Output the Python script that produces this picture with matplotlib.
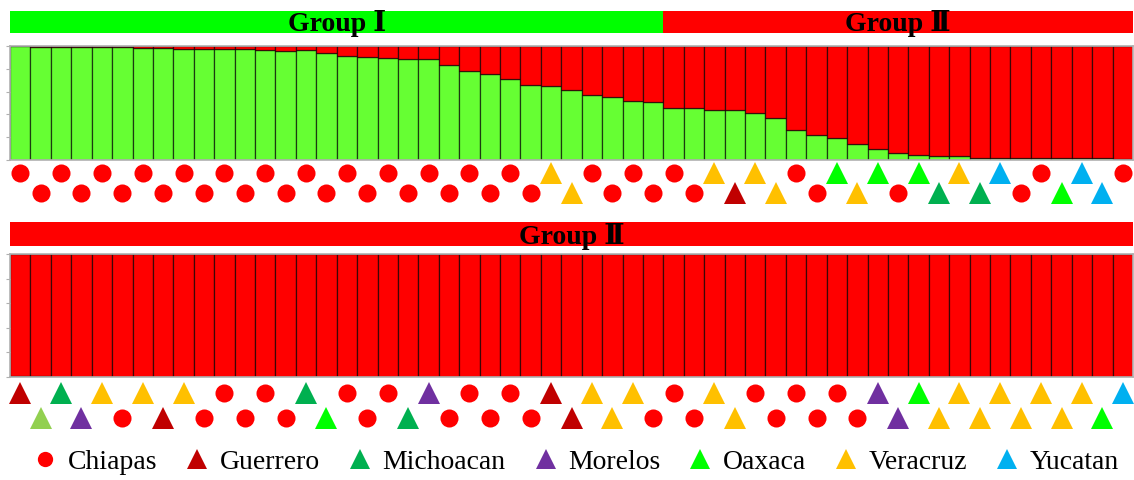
import numpy as np
import matplotlib
matplotlib.use("Agg")
import matplotlib.pyplot as plt
from matplotlib.lines import Line2D

plt.rcParams['font.family'] = ['Liberation Serif', 'DejaVu Serif']

# membership to the green cluster, one value per individual
green_top = [1.0, 0.994, 0.994, 0.994, 0.988, 0.988, 0.985, 0.985, 0.976, 0.976,
             0.97, 0.97, 0.965, 0.96, 0.962, 0.935, 0.91, 0.905, 0.894, 0.882,
             0.882, 0.832, 0.779, 0.753, 0.712, 0.659, 0.653, 0.618, 0.568, 0.556,
             0.515, 0.506, 0.459, 0.453, 0.441, 0.435, 0.412, 0.371, 0.259, 0.218,
             0.194, 0.141, 0.1, 0.062, 0.047, 0.038, 0.032, 0.021, 0.021, 0.015,
             0.015, 0.015, 0.015, 0.015, 0.012]
green_bottom = [0.008, 0.008, 0.004, 0.004, 0.004, 0.004, 0.004, 0.004, 0.004, 0.004,
                0.004, 0.004] + [0.0] * 43

# state of origin of each individual
states_top = ['C'] * 26 + ['V', 'V', 'C', 'C', 'C', 'C', 'C', 'C', 'V', 'G', 'V', 'V',
                           'C', 'C', 'O', 'V', 'O', 'C', 'O', 'M', 'V', 'M', 'Y', 'C',
                           'C', 'O', 'Y', 'Y', 'C']
states_bottom = ['G', 'L', 'M', 'Mo', 'V', 'C', 'V', 'G', 'V', 'C', 'C', 'C', 'C', 'C',
                 'M', 'O', 'C', 'C', 'C', 'M', 'Mo', 'C', 'C', 'C', 'C', 'C', 'G', 'G',
                 'V', 'V', 'V', 'C', 'C', 'C', 'V', 'V', 'C', 'C', 'C', 'C', 'C', 'C',
                 'Mo', 'Mo', 'O', 'V', 'V', 'V', 'V', 'V', 'V', 'V', 'V', 'O', 'Y']

n_group1 = 32  # first 32 individuals of the top row belong to Group I

state_names = ['Chiapas', 'Guerrero', 'Michoacan', 'Morelos', 'Oaxaca', 'Veracruz', 'Yucatan']
state_codes = ['C', 'G', 'M', 'Mo', 'O', 'V', 'Y']
state_colors = {'C': '#FF0000', 'G': '#C00000', 'M': '#00B050', 'Mo': '#7030A0',
                'O': '#00FF00', 'V': '#FFC000', 'Y': '#00B0F0', 'L': '#92D050'}

W, H = 1134, 480
fig = plt.figure(figsize=(W / 100, H / 100), dpi=100)


def px_axes(x0, y0, x1, y1):
    # axes placed by pixel box (top-left origin)
    return fig.add_axes([x0 / W, 1 - y1 / H, (x1 - x0) / W, (y1 - y0) / H])


def header(ax, spans):
    ax.set_xlim(-0.5, 54.5)
    ax.set_ylim(0, 1)
    for start, end, color, label in spans:
        ax.axvspan(start - 0.5, end - 0.5, color=color, lw=0)
        ax.text((start + end - 1) / 2, 0.1, label, ha='center', va='baseline',
                fontsize=20, fontweight='bold', clip_on=False)
    ax.axis('off')


def structure(ax, green):
    x = np.arange(len(green))
    g = np.array(green)
    ax.bar(x, g, width=1, color='#66FF33', edgecolor=(0, 0, 0, 0.65), lw=0.9)
    ax.bar(x, 1 - g, bottom=g, width=1, color='#FF0000', edgecolor=(0, 0, 0, 0.65), lw=0.9)
    ax.set_xlim(-0.5, len(green) - 0.5)
    ax.set_ylim(0, 1)
    ax.set_xticks([])
    ax.set_yticks(np.linspace(0, 1, 6))
    ax.set_yticklabels([])
    ax.tick_params(axis='y', length=3, color='#b0b0b0', width=0.8)
    for s in ax.spines.values():
        s.set_color('#b0b0b0')
        s.set_linewidth(1.2)


def origin_marks(ax, states):
    ax.set_xlim(-0.5, len(states) - 0.5)
    ax.set_ylim(0, 1)
    for i, st in enumerate(states):
        y = 0.72 if i % 2 == 0 else 0.28
        m = 'o' if st == 'C' else '^'
        ms = 13 if st == 'C' else 16
        ax.plot(i, y, marker=m, ms=ms, color=state_colors[st], mew=0, ls='none',
                clip_on=False)
    ax.axis('off')


header(px_axes(10, 11, 1133, 33), [(0, n_group1, '#00FF00', 'Group Ⅰ'),
                                     (n_group1, 55, '#FF0000', 'Group Ⅱ')])
structure(px_axes(10, 46, 1133, 160), green_top)
origin_marks(px_axes(10, 160, 1133, 206), states_top)

header(px_axes(10, 222, 1133, 246), [(0, 55, '#FF0000', 'Group Ⅱ')])
structure(px_axes(10, 254, 1133, 377), green_bottom)
origin_marks(px_axes(10, 377, 1133, 434), states_bottom)

handles = []
for code, name in zip(state_codes, state_names):
    m = 'o' if code == 'C' else '^'
    ms = 11 if code == 'C' else 15
    handles.append(Line2D([], [], marker=m, ms=ms, color=state_colors[code], mew=0,
                          ls='none', label=name))
fig.legend(handles=handles, loc='center', bbox_to_anchor=(0.507, 1 - 462 / H), ncol=7,
           frameon=False, fontsize=20, handletextpad=0.3, columnspacing=0.95,
           handlelength=1.0, borderpad=0.1)

fig.savefig('out.png', dpi=100)
